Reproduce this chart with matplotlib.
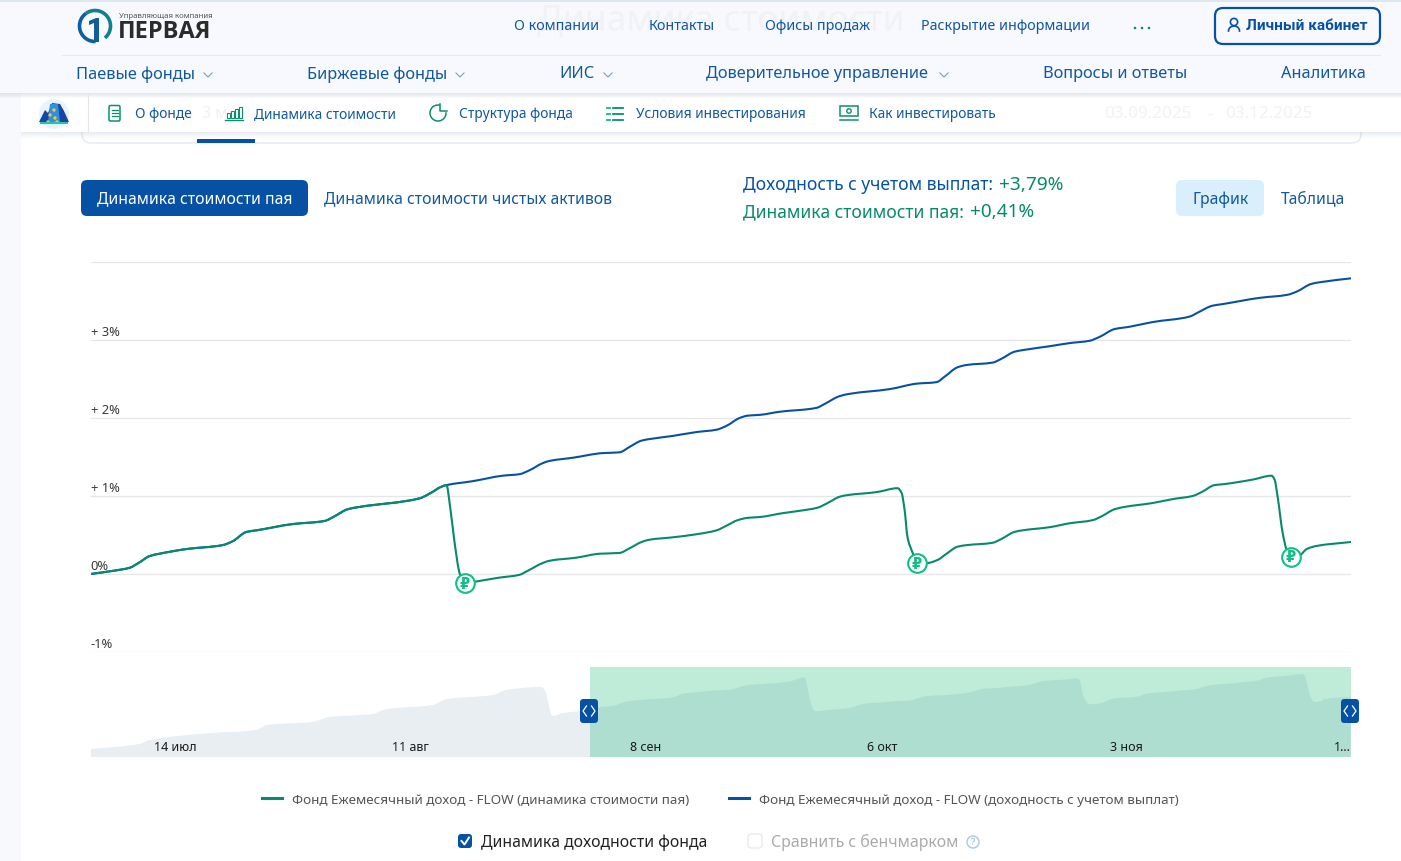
import numpy as np
import matplotlib
matplotlib.use("Agg")
import matplotlib.pyplot as plt
from matplotlib.patches import FancyBboxPatch, Rectangle, Circle, Polygon, PathPatch
from matplotlib.path import Path
from matplotlib.lines import Line2D
from matplotlib.transforms import ScaledTranslation

plt.rcParams['font.family'] = ['Noto Sans', 'DejaVu Sans']

# ---- data (days since 03.09.2025, percent) ----
shared_days = [0.00, 1.59, 2.82, 3.54, 4.26, 4.98, 6.93, 9.53, 10.26, 11.27, 11.99, 14.59, 16.90, 17.62,
               18.56, 19.43, 23.76, 24.48, 25.35, 25.71]
shared_vals = [0.00, 0.04, 0.08, 0.15, 0.23, 0.26, 0.32, 0.37, 0.42, 0.54, 0.56, 0.64, 0.68, 0.74,
               0.83, 0.86, 0.97, 1.03, 1.12, 1.14]
total_days = [27.59, 29.75, 30.98, 31.70, 32.64, 33.15, 34.81, 36.98, 38.20, 38.93, 39.79, 40.37, 42.03,
              43.77, 45.21, 45.93, 46.87, 47.45, 48.32, 49.76, 52.43, 53.01, 54.09, 54.82, 57.70, 59.65,
              61.10, 61.68, 62.61, 63.27, 65.14, 65.79, 66.73, 67.31, 69.26, 70.70, 72.15, 72.87, 73.95,
              75.04, 76.70, 79.37, 79.95, 81.03, 81.75, 84.42, 86.45, 87.10, 88.18, 88.76, 91.00]
total_vals = [1.19, 1.26, 1.28, 1.33, 1.42, 1.45, 1.49, 1.55, 1.56, 1.63, 1.71, 1.73, 1.77,
              1.82, 1.85, 1.90, 2.00, 2.03, 2.04, 2.08, 2.13, 2.18, 2.28, 2.31, 2.37, 2.44,
              2.46, 2.53, 2.65, 2.68, 2.71, 2.76, 2.85, 2.87, 2.92, 2.96, 2.99, 3.04, 3.14,
              3.17, 3.23, 3.30, 3.35, 3.44, 3.46, 3.54, 3.58, 3.62, 3.72, 3.74, 3.79]
price_days = [25.93, 26.29, 26.65, 27.01, 27.73, 29.39, 30.98, 31.56, 32.64, 33.15, 35.10, 36.76, 38.20,
              38.93, 39.79, 40.37, 42.03, 43.77, 45.21, 45.93, 46.73, 47.45, 48.32, 49.98, 51.20, 52.50,
              53.23, 54.09, 54.60, 56.77, 58.28, 58.57, 58.79, 59.00, 59.37, 59.65, 60.38, 61.17, 61.82,
              62.61, 63.27, 65.14, 65.79, 66.73, 67.31, 69.26, 70.70, 72.37, 73.02, 73.95, 74.68, 76.70,
              78.14, 79.59, 80.24, 81.18, 81.75, 83.92, 85.29, 85.51, 85.73, 86.09, 86.38, 86.67, 87.32,
              87.83, 88.55, 91.00]
price_vals = [0.91, 0.40, 0.01, -0.12, -0.10, -0.05, -0.01, 0.04, 0.14, 0.17, 0.21, 0.26, 0.27,
              0.33, 0.41, 0.44, 0.47, 0.51, 0.56, 0.62, 0.69, 0.72, 0.73, 0.78, 0.81, 0.85,
              0.91, 0.99, 1.01, 1.05, 1.10, 1.04, 0.82, 0.47, 0.27, 0.14, 0.14, 0.18, 0.26,
              0.35, 0.37, 0.40, 0.45, 0.54, 0.56, 0.60, 0.65, 0.69, 0.74, 0.83, 0.86, 0.91,
              0.96, 1.00, 1.05, 1.14, 1.15, 1.21, 1.26, 1.21, 0.99, 0.53, 0.31, 0.22, 0.24,
              0.32, 0.36, 0.41]
payout_days = [27.01, 59.65, 86.67]
payout_vals = [-0.12, 0.14, 0.22]
history_days = [-59.67, -53.81, -52.62, -45.44, -39.82, -38.62, -33.12, -31.09, -25.95, -24.27, -18.77,
                -17.10, -11.60, -9.93, -5.74, -5.38, -4.42, -3.23, -1.20]
history_vals = [-1.52, -1.33, -1.19, -0.93, -0.81, -0.63, -0.52, -0.33, -0.22, -0.04, 0.11,
                0.33, 0.48, 0.67, 0.78, 0.67, -0.30, -0.19, -0.11]
y_ticks = [-1, 0, 1, 2, 3, 4]
y_labels = ['-1%', '0%', '+ 1%', '+ 2%', '+ 3%', '']
nav_tick_days = [-49.5, -21.4, 6.7, 35.0, 64.2, 90.0]
nav_tick_labels = ['14 июл', '11 авг', '8 сен', '6 окт', '3 ноя', '1...']
series_names = ['Фонд Ежемесячный доход - FLOW (динамика стоимости пая)',
                'Фонд Ежемесячный доход - FLOW (доходность с учетом выплат)']

W, H = 1401, 862
NAVY, GREEN = '#0651A4', '#078A6C'
LINK, TEAL = '#11589F', '#0B8F6F'
fig = plt.figure(figsize=(W / 100, H / 100), dpi=100, facecolor='white')


def box(px0, py0, px1, py1):
    return [(px0 - 0.4) / W, 1 - (py1 + 1) / H, (px1 - px0) / W, (py1 - py0) / H]


def spline_path(xs, ys):
    """Monotone cubic Bezier through the points, like the chart's spline line style."""
    x, y = np.asarray(xs, float), np.asarray(ys, float)
    h = np.diff(x)
    d = np.diff(y) / h
    m = np.zeros_like(x)
    m[0], m[-1] = d[0], d[-1]
    for i in range(1, len(x) - 1):
        if d[i - 1] * d[i] > 0:
            w1, w2 = 2 * h[i] + h[i - 1], h[i] + 2 * h[i - 1]
            m[i] = (w1 + w2) / (w1 / d[i - 1] + w2 / d[i])
    verts, codes = [(x[0], y[0])], [Path.MOVETO]
    for i in range(len(h)):
        verts += [(x[i] + h[i] / 3, y[i] + m[i] * h[i] / 3),
                  (x[i + 1] - h[i] / 3, y[i + 1] - m[i + 1] * h[i] / 3),
                  (x[i + 1], y[i + 1])]
        codes += [Path.CURVE4] * 3
    return verts, codes


bg = fig.add_axes([0, 0, 1, 1], zorder=0)
bg.set_xlim(0, W); bg.set_ylim(H - 1, -1); bg.axis('off')
fg = fig.add_axes([0, 0, 1, 1], zorder=5)
fg.set_xlim(0, W); fg.set_ylim(H - 1, -1); fg.axis('off'); fg.patch.set_alpha(0)


def T(a, x, y, s, px, color='#11589F', ha='left', va='center', **kw):
    return a.text(x, y + 0.4, s, fontsize=px * 0.72, color=color, ha=ha, va=va, **kw)


def R(a, x0, y0, x1, y1, fc, ec='none', lw=0, r=0, **kw):
    if r:
        p = FancyBboxPatch((x0 + r, y0 + r), x1 - x0 - 2 * r, y1 - y0 - 2 * r,
                           boxstyle=f'round,pad={r},rounding_size={r}', fc=fc, ec=ec, lw=lw, **kw)
    else:
        p = Rectangle((x0, y0), x1 - x0, y1 - y0, fc=fc, ec=ec, lw=lw, **kw)
    a.add_patch(p)
    return p


# page background
R(bg, 0, 0, 21, H, '#F7F9FD')
R(bg, 82, 100, 1361, 143, 'white', ec='#E3E8F0', lw=1, r=9)
R(bg, 197, 139, 255, 143, NAVY)
T(bg, 202, 113, '3 м', 16, '#EEF0F4')
T(bg, 1104, 113, '03.09.2025', 17, '#F0F2F5')
T(bg, 1207, 113, '-', 17, '#F0F2F5')
T(bg, 1225, 113, '03.12.2025', 17, '#F0F2F5')
R(bg, 1326, 107, 1339, 120, 'none', ec='#F0F2F5', lw=1.2, r=2)

# sub navigation
for i in range(6):
    R(bg, 21, 132, 1401, 133 + i, '#8FA5C0', alpha=0.03)
R(bg, 21, 90, 1401, 132, 'white', r=10)
bg.plot([88, 88], [95, 132], color='#E2E5EA', lw=0.8)

# header
for i in range(5):
    R(bg, 0, 93, W, 94 + i, '#8FA5C0', alpha=0.05)
R(bg, 0, 0, W, 93, '#F7F9FE')
R(bg, 0, 0, W, 2, '#DDE7EF')
bg.plot([62, 1380], [55, 55], color='#E6E9EE', lw=0.8)
T(bg, 721, 20, 'Динамика стоимости', 35.5, '#F1F2F6', ha='center', weight='bold')

# logo
th = np.radians(np.linspace(-50, 125, 40))
bg.plot(95 + 15.5 * np.cos(th), 26 - 15.5 * np.sin(th), color='#12808A', lw=2.6, solid_capstyle='butt')
th = np.radians(np.linspace(125, 272, 40))
bg.plot(95 + 15.5 * np.cos(th), 26 - 15.5 * np.sin(th), color='#0D5EA3', lw=2.6, solid_capstyle='butt')
bg.add_patch(Polygon([[89, 21], [96, 18], [99, 18], [99, 42], [94, 42], [94, 23], [89, 25]], fc='#115F96', ec='none'))
T(bg, 119, 15, 'Управляющая компания', 7.8, '#555555')
T(bg, 118, 31, 'ПЕРВАЯ', 23.5, '#2B2B2B', weight='bold', family='Open Sans')

for x, s in [(514, 'О компании'), (649, 'Контакты'), (765, 'Офисы продаж'), (921, 'Раскрытие информации')]:
    T(bg, x, 25, s, 14.3)
for x in (1135, 1142, 1149):
    bg.add_patch(Circle((x, 28), 1.3, fc=TEAL))
R(bg, 1215, 8, 1380, 44, 'none', ec=NAVY, lw=1.6, r=8)
bg.add_patch(Circle((1234, 22), 3.6, fc='none', ec=NAVY, lw=1.2))
bg.plot(1234 + 5.5 * np.cos(np.linspace(0, np.pi, 20)), 31 - 5 * np.sin(np.linspace(0, np.pi, 20)), color=NAVY, lw=1.2)
T(bg, 1246, 25, 'Личный кабинет', 15.4, NAVY, weight='bold', family='Roboto')

for x, s, chev in [(76, 'Паевые фонды', 208), (307, 'Биржевые фонды', 460), (559, 'ИИС', 608),
                   (706, 'Доверительное управление', 944), (1043, 'Вопросы и ответы', None), (1281, 'Аналитика', None)]:
    T(bg, x, 73, s, 16.4)
    if chev:
        bg.plot([chev - 4, chev, chev + 4], [73, 77, 73], color='#7F9CC0', lw=0.8)

# sub-nav icons and labels
for x, s in [(135, 'О фонде'), (254, 'Динамика стоимости'), (459, 'Структура фонда'),
             (636, 'Условия инвестирования'), (869, 'Как инвестировать')]:
    T(bg, x, 113, s, 13.8)
R(bg, 109, 105.5, 120, 121, 'none', ec=TEAL, lw=1.1, r=1.5)
for y in (110, 113, 116):
    bg.plot([111.5, 117.5], [y, y], color=TEAL, lw=0.9)
for x, h in zip((227, 231, 235, 239), (5, 7, 9, 11)):
    R(bg, x, 118 - h, x + 3, 118, 'none', ec=TEAL, lw=0.8)
bg.plot([225, 243], [119.5, 119.5], color=TEAL, lw=1)
th = np.radians(np.linspace(80, 360, 60))
bg.plot(438 + 8 * np.cos(th), 113 - 8 * np.sin(th), color=TEAL, lw=1.1)
bg.plot([440, 440, 447], [104, 111, 111], color=TEAL, lw=1.1)
for y in (108, 114, 120):
    bg.plot([613, 623], [y, y], color=TEAL, lw=1.3)
    bg.plot([607, 610], [y, y], color='#11B584', lw=1.3)
R(bg, 840, 106, 858, 116, 'none', ec=TEAL, lw=1.1)
bg.add_patch(Circle((849, 111), 2.2, fc='none', ec=TEAL, lw=1))
bg.plot([840, 858], [119.5, 119.5], color=TEAL, lw=1.1)

# small mascot
bg.add_patch(Circle((54, 114), 15, fc='#EAF3FB'))
bg.add_patch(Polygon([[39, 122], [45, 110], [48, 113], [52, 103], [60, 104], [64, 111], [69, 122]], fc='#1846A6'))
bg.add_patch(Polygon([[50, 104], [58, 104], [60, 122], [48, 122]], fc='#2F8FE0'))
for x, y in [(50, 115), (54, 110), (55, 118), (48, 122), (57, 122)]:
    bg.add_patch(Circle((x, y), 1.7, fc='#F3C72E'))
bg.plot([41, 67], [123, 123], color='#22C79A', lw=1.5)

# tabs and totals
R(bg, 81, 180, 308, 216, NAVY, r=6)
T(bg, 194.5, 198, 'Динамика стоимости пая', 15.7, 'white', ha='center')
T(bg, 324, 198, 'Динамика стоимости чистых активов', 15.7)
T(bg, 743, 184, 'Доходность с учетом выплат:', 17.5, NAVY)
T(bg, 999, 184, '+3,79%', 19, GREEN)
T(bg, 743, 211, 'Динамика стоимости пая:', 17.5, GREEN)
T(bg, 970, 211, '+0,41%', 19, GREEN)
R(bg, 1176, 180, 1264, 216, '#D9EFFC', r=6)
T(bg, 1220.5, 198, 'График', 15.7, ha='center')
T(bg, 1281, 198, 'Таблица', 15.7)

# main chart
ax = fig.add_axes(box(91, 262, 1351, 652), zorder=2)
ax.patch.set_alpha(0)
ax.set_xlim(0, 91)
ax.set_ylim(-1, 4)
for s in ax.spines.values():
    s.set_visible(False)
ax.set_xticks([])
ax.set_yticks(y_ticks)
ax.set_yticklabels(y_labels)
ax.grid(axis='y', color='#E6E6E6', lw=0.9)
ax.set_axisbelow(True)
ax.tick_params(axis='y', length=0, pad=0, labelsize=9.3, labelcolor='#3A3A3A')
up = ScaledTranslation(0, 2 / 100, fig.dpi_scale_trans)
for tick in ax.yaxis.get_major_ticks():
    tick.label1.set_ha('left')
    tick.label1.set_va('bottom')
    tick.label1.set_transform(tick.label1.get_transform() + up)
for xs, ys, col in [(shared_days + total_days, shared_vals + total_vals, NAVY),
                    (shared_days + price_days, shared_vals + price_vals, GREEN)]:
    v, c = spline_path(xs, ys)
    ax.add_patch(PathPatch(Path(v, c), fc='none', ec=col, lw=1.5, capstyle='round', joinstyle='round'))
ax.scatter(payout_days, payout_vals, s=180, facecolor='white', edgecolor='#10BF85', linewidth=1.5, zorder=4, clip_on=False)
for d, v in zip(payout_days, payout_vals):
    ax.text(d, v, '₽', family='DejaVu Sans', weight='bold', fontsize=10.5, color='#10BF85', ha='center', va='center', zorder=5)

# navigator
nav = fig.add_axes(box(91, 667, 1351, 757), zorder=3)
nav.patch.set_alpha(0)
nav.set_xlim(history_days[0], 91)
nav.set_ylim(-1.815, 1.519)
for s in nav.spines.values():
    s.set_visible(False)
nav.set_yticks([])
nv, nc = spline_path(history_days + shared_days + price_days, history_vals + shared_vals + price_vals)
nv = nv + [(91, -1.815), (history_days[0], -1.815), nv[0]]
nc = nc + [Path.LINETO, Path.LINETO, Path.CLOSEPOLY]
nav.add_patch(PathPatch(Path(nv, nc), fc='#E9EEF2', ec='none', lw=0))
nav.axvspan(0, 91, color='#00B168', alpha=0.25, lw=0)
nav.set_xticks(nav_tick_days)
nav.set_xticklabels(nav_tick_labels)
nav.tick_params(axis='x', length=0, pad=-12.2, labelsize=9.0, labelcolor='#1A1A1A')

for cx in (589, 1350):
    R(fg, cx - 9, 699, cx + 9, 723, NAVY, r=3.5)
    fg.plot([cx - 2.5, cx - 6, cx - 2.5], [706, 711, 716], color='white', lw=0.9)
    fg.plot([cx + 2.5, cx + 6, cx + 2.5], [706, 711, 716], color='white', lw=0.9)

# legend
handles = [Line2D([], [], color=GREEN, lw=2.2), Line2D([], [], color=NAVY, lw=2.2)]
fig.legend(handles, series_names, ncol=2, frameon=False, loc='center',
           bbox_to_anchor=(720.5 / W, 1 - 800.5 / H), fontsize=9.7, labelcolor='#555555',
           handlelength=1.48, handletextpad=0.78, columnspacing=2.9, borderpad=0)

# check boxes
R(bg, 458, 834, 472, 848, NAVY, r=3)
bg.plot([461.5, 464.5, 469], [841, 844.5, 837.5], color='white', lw=1.4)
T(bg, 481, 841, 'Динамика доходности фонда', 15.8, '#222222')
R(bg, 748, 834, 762, 848, 'white', ec='#E8E8E8', lw=0.9, r=3)
T(bg, 771, 841, 'Сравнить с бенчмарком', 15.85, '#AAAAAA')
bg.add_patch(Circle((973, 842), 6, fc='none', ec='#A9C8E4', lw=1))
T(bg, 973, 841, '?', 9.5, '#8FB6DA', ha='center')

fig.savefig('out.png', dpi=100)
